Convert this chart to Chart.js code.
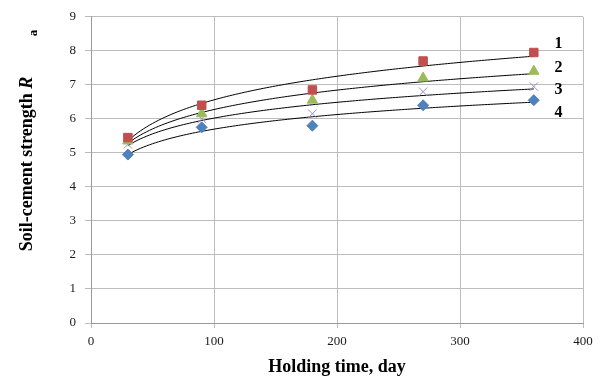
<!DOCTYPE html>
<html>
<head>
<meta charset="utf-8">
<script src="https://cdn.jsdelivr.net/npm/chart.js@4"></script>
<style>
  html, body { margin: 0; padding: 0; background: #fff; }
  #wrap { width: 601px; height: 382px; }
</style>
</head>
<body>
<div id="wrap"><canvas id="myChart" width="601" height="382"></canvas></div>
<script>
// holding time, days
var days = [30, 90, 180, 270, 360];
// soil-cement strength for the four mixes
var s1 = [5.45, 6.4, 6.85, 7.7, 7.95];
var s2 = [5.35, 6.15, 6.55, 7.2, 7.4];
var s3 = [5.25, 6.0, 6.15, 6.8, 6.95];
var s4 = [4.95, 5.75, 5.8, 6.4, 6.55];
var curveLabels = ['1', '2', '3', '4'];
var labelX = [380, 380, 380, 380];
var labelY = [8.2, 7.5, 6.85, 6.17];

// logarithmic trend line (least squares on ln x), like the spreadsheet does
function logFit(xs, ys) {
    var n = xs.length, sx = 0, sy = 0, sxx = 0, sxy = 0;
    for (var i = 0; i < n; i++) {
        var lx = Math.log(xs[i]);
        sx += lx; sy += ys[i]; sxx += lx * lx; sxy += lx * ys[i];
    }
    var b = (n * sxy - sx * sy) / (n * sxx - sx * sx);
    var a = (sy - b * sx) / n;
    var pts = [];
    for (var x = xs[0]; x <= xs[n - 1]; x += 5) {
        pts.push({ x: x, y: a + b * Math.log(x) });
    }
    return pts;
}

function pts(ys) {
    return days.map((d, i) => ({ x: d, y: ys[i] }));
}

function trend(ys) {
    return {
        data: logFit(days, ys),
        borderColor: '#000',
        borderWidth: 1,
        pointRadius: 0,
        showLine: true,
        tension: 0.4,
        fill: false,
        order: 2
    };
}

var serif = '"Liberation Serif", "Times New Roman", serif';

var annotate = {
    id: 'annotate',
    afterDraw(chart) {
        var c = chart.ctx, xs = chart.scales.x, ys = chart.scales.y;
        c.save();
        c.fillStyle = '#000';
        c.font = 'bold 16px ' + serif;
        c.textAlign = 'left';
        c.textBaseline = 'middle';
        for (var i = 0; i < curveLabels.length; i++) {
            c.fillText(curveLabels[i], xs.getPixelForValue(labelX[i]) - 4, ys.getPixelForValue(labelY[i]));
        }
        // y axis title
        c.translate(32, 164);
        c.rotate(-Math.PI / 2);
        c.textAlign = 'left';
        c.textBaseline = 'alphabetic';
        c.font = 'bold 18px ' + serif;
        var t = 'Soil-cement strength ';
        var w = c.measureText(t).width;
        c.font = 'bold italic 18px ' + serif;
        var w2 = c.measureText('R').width;
        var x0 = -(w + w2) / 2;
        c.font = 'bold 18px ' + serif;
        c.fillText(t, x0, 0);
        c.font = 'bold italic 18px ' + serif;
        c.fillText('R', x0 + w, 0);
        c.restore();
        c.save();
        c.fillStyle = '#000';
        c.translate(34, 33);
        c.rotate(-Math.PI / 2);
        c.font = 'bold 13px ' + serif;
        c.textAlign = 'center';
        c.textBaseline = 'middle';
        c.fillText('a', 0, 0);
        c.restore();
    }
};

var ctx = document.getElementById('myChart').getContext('2d');

var myChart = new Chart(ctx, {
    type: 'scatter',
    data: {
        datasets: [
            { data: pts(s1), pointStyle: 'rect', pointRadius: 6, backgroundColor: '#C0504D', borderColor: '#C0504D', order: 1 },
            { data: pts(s2), pointStyle: 'triangle', pointRadius: 6, backgroundColor: '#9BBB59', borderColor: '#9BBB59', order: 1 },
            { data: pts(s3), pointStyle: 'crossRot', pointRadius: 6, backgroundColor: '#9a8fc4', borderColor: '#9a8fc4', borderWidth: 1, order: 1 },
            { data: pts(s4), pointStyle: 'rectRot', pointRadius: 5.5, backgroundColor: '#4F81BD', borderColor: '#4F81BD', order: 1 },
            trend(s1), trend(s2), trend(s3), trend(s4)
        ]
    },
    options: {
        responsive: false,
        animation: false,
        layout: { padding: { left: 0, right: 18, top: 15, bottom: 0 } },
        plugins: { legend: { display: false }, tooltip: { enabled: false } },
        scales: {
            x: {
                type: 'linear',
                min: 0, max: 400,
                ticks: { stepSize: 100, color: '#1a1a1a', font: { family: serif, size: 13 }, padding: 6 },
                grid: { color: '#bdbdbd', tickLength: 5 },
                border: { color: '#9a9a9a' },
                title: { display: true, text: 'Holding time, day', color: '#000', font: { family: serif, size: 18, weight: 'bold' }, padding: { top: 8 } },
                afterFit(scale) { scale.height = 59; }
            },
            y: {
                min: 0, max: 9,
                ticks: { stepSize: 1, color: '#1a1a1a', font: { family: serif, size: 13 }, padding: 9 },
                grid: { color: '#bdbdbd', tickLength: 6 },
                border: { color: '#9a9a9a' },
                afterFit(scale) { scale.width = 91; }
            }
        }
    },
    plugins: [annotate]
});
</script>
</body>
</html>
